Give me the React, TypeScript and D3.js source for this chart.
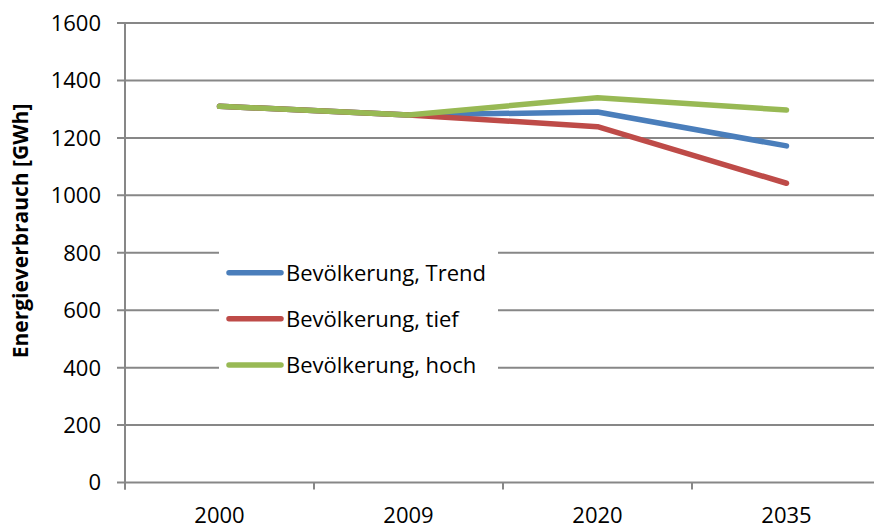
import { useEffect, useRef } from 'react';
import * as d3 from 'd3';

const years = ['2000', '2009', '2020', '2035'];
const trend = [1310, 1280, 1290, 1172];
const tief = [1310, 1280, 1239, 1042];
const hoch = [1310, 1280, 1340, 1297];
const seriesNames = ['Bevölkerung, Trend', 'Bevölkerung, tief', 'Bevölkerung, hoch'];
const seriesColors = ['#4A7EBB', '#BE4B48', '#98B954'];
const yTicks = [0, 200, 400, 600, 800, 1000, 1200, 1400, 1600];

const App = () => {
  const svgRef = useRef<SVGSVGElement>(null);

  useEffect(() => {
    const svg = d3.select(svgRef.current);
    svg.selectAll('*').remove();

    const width = 874;
    const height = 523;
    const left = 125;
    const right = 881;
    const top = 23;
    const bottom = 482.5;
    const gridColor = '#878787';
    const font = '"Open Sans", sans-serif';

    svg.attr('width', width).attr('height', height);

    const x = d3.scaleBand().domain(years).range([left, right]);
    const y = d3.scaleLinear().domain([0, 1600]).range([bottom, top]);

    // gridlines + left ticks
    svg
      .append('g')
      .selectAll('line')
      .data(yTicks)
      .enter()
      .append('line')
      .attr('x1', left - 8)
      .attr('x2', right)
      .attr('y1', (d) => y(d))
      .attr('y2', (d) => y(d))
      .attr('stroke', gridColor)
      .attr('stroke-width', 2);

    // y axis line
    svg
      .append('line')
      .attr('x1', left)
      .attr('x2', left)
      .attr('y1', top)
      .attr('y2', bottom + 7)
      .attr('stroke', gridColor)
      .attr('stroke-width', 2);

    // x ticks (band boundaries)
    const bounds = years.map((d) => x(d) as number).concat([right]);
    svg
      .append('g')
      .selectAll('line')
      .data(bounds)
      .enter()
      .append('line')
      .attr('x1', (d) => d)
      .attr('x2', (d) => d)
      .attr('y1', bottom)
      .attr('y2', bottom + 7)
      .attr('stroke', gridColor)
      .attr('stroke-width', 2);

    // y tick labels
    svg
      .append('g')
      .selectAll('text')
      .data(yTicks)
      .enter()
      .append('text')
      .attr('x', 101)
      .attr('y', (d) => y(d))
      .attr('dy', '0.36em')
      .attr('text-anchor', 'end')
      .style('font-family', font)
      .style('font-size', '22px')
      .text((d) => d);

    // x tick labels
    svg
      .append('g')
      .selectAll('text')
      .data(years)
      .enter()
      .append('text')
      .attr('x', (d) => (x(d) as number) + x.bandwidth() / 2)
      .attr('y', 522.5)
      .attr('text-anchor', 'middle')
      .style('font-family', font)
      .style('font-size', '22px')
      .text((d) => d);

    // y axis title
    svg
      .append('text')
      .attr('transform', 'translate(28,231) rotate(-90)')
      .attr('text-anchor', 'middle')
      .style('font-family', font)
      .style('font-size', '21px')
      .style('font-weight', 'bold')
      .text('Energieverbrauch [GWh]');

    // lines
    const line = d3
      .line<number>()
      .x((d, i) => (x(years[i]) as number) + x.bandwidth() / 2)
      .y((d) => y(d));

    [trend, tief, hoch].forEach((values, i) => {
      svg
        .append('path')
        .datum(values)
        .attr('d', line)
        .attr('fill', 'none')
        .attr('stroke', seriesColors[i])
        .attr('stroke-width', 5.5)
        .attr('stroke-linecap', 'round')
        .attr('stroke-linejoin', 'round');
    });

    // legend
    const legend = svg.append('g');
    legend
      .append('rect')
      .attr('x', 219)
      .attr('y', 245)
      .attr('width', 279)
      .attr('height', 142)
      .attr('fill', '#fff');

    const legendY = [272.7, 318.7, 365];
    seriesNames.forEach((name, i) => {
      legend
        .append('line')
        .attr('x1', 229)
        .attr('x2', 281)
        .attr('y1', legendY[i])
        .attr('y2', legendY[i])
        .attr('stroke', seriesColors[i])
        .attr('stroke-width', 5.5)
        .attr('stroke-linecap', 'round');
      legend
        .append('text')
        .attr('x', 286)
        .attr('y', legendY[i])
        .attr('dy', '0.36em')
        .style('font-family', font)
        .style('font-size', '22px')
        .text(name);
    });
  }, []);

  return <svg ref={svgRef} style={{ position: 'absolute', left: 0, top: 0, background: '#fff' }}></svg>;
};

export default App;
